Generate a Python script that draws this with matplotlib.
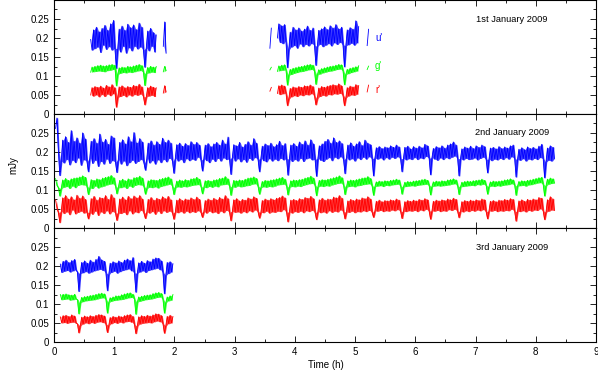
import numpy as np
import matplotlib
matplotlib.use('Agg')
import matplotlib.pyplot as plt
from matplotlib.ticker import MultipleLocator

plt.rcParams['font.family'] = ['Liberation Sans', 'DejaVu Sans']
plt.rcParams['path.simplify'] = False   # keep every zigzag of the noisy curves

# light curves in units of 0.001 mJy, sampled every dt hours
dt = 0.023675

# --- 1st January 2009 (5 chunks)
jan1_t0 = [0.609, 1.815, 3.585, 3.710, 5.200]
jan1_u = [
    [196, 168, 222, 172, 229, 176, 217, 162, 226, 181, 234, 170, 221, 177, 238, 168, 247, 173,
     120, 172, 224, 163, 232, 178, 221, 160, 237, 174, 228, 166, 235, 178, 223, 171, 240, 176, 229, 169,
     123, 174, 219, 166, 226, 178, 215, 163, 208],
    [178, 243, 160],
    [173, 226],
    [200, 238, 188, 233, 185, 236, 192,
     122, 170, 216, 176, 229, 180, 222, 173, 227, 184, 219, 177, 224, 183, 232, 179, 221, 185, 227, 181,
     128, 178, 221, 183, 225, 177, 230, 181, 223, 185, 233, 179, 227, 187, 236, 183, 225, 188, 229, 182,
     124, 180, 222, 182, 228, 186, 224, 181, 246, 187, 230],
    [180, 223],
]
jan1_g = [
    [110, 124, 111, 126, 112, 128, 113, 129, 112, 127, 111, 128, 114, 130, 115, 131, 117, 129,
     74, 104, 122, 107, 124, 109, 123, 108, 126, 110, 125, 109, 127, 111, 129, 113, 131, 114, 128, 110,
     75, 106, 123, 108, 126, 110, 124, 109, 125],
    [111, 126, 114],
    [116, 123],
    [112, 127, 114, 129, 115, 130, 116,
     76, 102, 118, 104, 121, 107, 123, 109, 125, 111, 126, 112, 128, 114, 130, 116, 131, 117, 129, 113,
     78, 103, 117, 105, 120, 108, 122, 110, 124, 112, 126, 113, 127, 115, 129, 117, 131, 118, 130, 114,
     77, 104, 118, 106, 121, 109, 123, 111, 125, 113, 127],
    [117, 126],
]
jan1_r = [
    [50, 70, 47, 73, 50, 71, 45, 74, 51, 69, 46, 76, 52, 72, 48, 78, 53, 70,
     18, 44, 72, 46, 75, 49, 70, 45, 73, 50, 71, 47, 76, 51, 74, 49, 79, 52, 72, 46,
     24, 45, 70, 47, 74, 49, 71, 46, 69],
    [55, 75, 58],
    [60, 70],
    [54, 75, 51, 77, 53, 74, 55,
     22, 40, 68, 45, 72, 48, 70, 46, 73, 50, 71, 48, 75, 51, 74, 50, 77, 53, 73, 48,
     24, 41, 69, 46, 73, 49, 71, 47, 74, 51, 76, 50, 78, 53, 76, 52, 80, 54, 75, 49,
     22, 43, 70, 47, 74, 50, 72, 49, 78, 52, 75],
    [58, 76],
]

# --- 2nd January 2009 (one long run)
jan2_t0 = [0.026]
jan2_u = [[
    262, 290, 200,
    138, 176, 232, 171, 241, 180, 226, 166, 257, 178, 229, 172, 238, 184, 224, 165, 251, 179, 235, 176,
    148, 184, 229, 170, 236, 178, 224, 162, 248, 175, 227, 168, 234, 181, 221, 170, 243, 177, 238, 174,
    146, 180, 226, 168, 233, 176, 222, 164, 241, 172, 228, 178, 252, 170, 225, 175, 236, 180, 227, 171,
    152, 183, 224, 171, 230, 177, 219, 168, 228, 179, 221, 172, 237, 180, 226, 174, 232, 183, 224, 176,
    144, 184, 220, 176, 224, 180, 216, 172, 223, 182, 218, 177, 228, 181, 221, 178, 226, 186, 219, 179,
    150, 182, 219, 177, 223, 172, 215, 181, 222, 175, 226, 183, 219, 176, 232, 184, 222, 180, 240, 182,
    141, 186, 220, 176, 217, 182, 226, 174, 214, 180, 221, 173, 228, 183, 219, 178, 236, 185, 224, 181,
    148, 183, 216, 177, 222, 174, 218, 182, 224, 176, 215, 181, 220, 177, 229, 183, 218, 179, 223, 183,
    139, 181, 219, 175, 223, 180, 216, 176, 227, 183, 221, 175, 230, 182, 219, 184, 233, 179, 222, 181,
    136, 183, 217, 178, 222, 175, 229, 181, 234, 185, 224, 177, 238, 186, 226, 182, 230, 187, 223, 180,
    143, 185, 219, 179, 225, 182, 216, 176, 222, 184, 228, 180, 218, 186, 232, 181, 224, 187, 220, 183,
    137, 184, 212, 181, 215, 184, 210, 179, 214, 185, 212, 181, 217, 186, 213, 183, 219, 187, 214, 182,
    148, 183, 213, 179, 216, 182, 209, 180, 215, 185, 211, 180, 216, 184, 212, 182, 221, 188, 217, 184,
    140, 185, 210, 181, 215, 178, 212, 184, 217, 180, 211, 185, 219, 182, 222, 186, 227, 189, 219, 183,
    137, 182, 209, 179, 214, 183, 211, 180, 216, 181, 210, 184, 217, 179, 213, 183, 219, 186, 215, 181,
    145, 181, 211, 177, 213, 181, 209, 179, 215, 183, 210, 180, 214, 185, 211, 181, 217, 187, 219, 183,
    134, 180, 208, 178, 212, 182, 207, 176, 214, 181, 210, 179, 213, 183, 209, 180, 216, 185, 221, 183,
    132, 174, 211, 178, 217, 176, 213, 182,
]]
jan2_g = [[
    130, 112, 106,
    84, 104, 127, 107, 131, 109, 126, 104, 130, 110, 132, 106, 133, 112, 135, 114, 138, 113, 134, 110,
    88, 105, 128, 104, 126, 110, 130, 105, 128, 108, 132, 110, 134, 113, 136, 115, 139, 116, 133, 111,
    90, 106, 126, 106, 129, 108, 125, 104, 130, 110, 128, 107, 133, 112, 134, 114, 137, 113, 132, 109,
    89, 104, 125, 107, 128, 106, 127, 108, 126, 105, 129, 109, 131, 111, 133, 113, 135, 115, 130, 110,
    88, 106, 124, 108, 127, 107, 125, 109, 128, 108, 126, 110, 130, 112, 131, 113, 134, 114, 129, 109,
    90, 107, 125, 106, 126, 109, 124, 107, 127, 110, 128, 108, 131, 113, 132, 114, 136, 115, 130, 111,
    86, 108, 126, 107, 125, 110, 127, 108, 126, 109, 129, 111, 132, 112, 133, 115, 135, 116, 131, 110,
    89, 106, 123, 108, 126, 107, 125, 109, 127, 108, 128, 110, 130, 113, 132, 114, 134, 115, 129, 111,
    87, 107, 125, 109, 127, 108, 126, 110, 128, 109, 129, 112, 132, 114, 134, 116, 137, 117, 132, 112,
    85, 108, 126, 110, 128, 109, 127, 111, 129, 110, 131, 113, 133, 115, 135, 117, 138, 118, 133, 113,
    88, 107, 125, 109, 127, 110, 126, 108, 128, 111, 130, 112, 132, 114, 133, 115, 136, 116, 131, 111,
    86, 109, 122, 110, 124, 111, 123, 109, 125, 112, 124, 111, 126, 113, 127, 114, 129, 115, 127, 111,
    89, 108, 121, 109, 123, 110, 122, 111, 124, 110, 125, 112, 126, 113, 128, 114, 129, 115, 126, 112,
    87, 109, 122, 110, 124, 111, 123, 110, 125, 111, 124, 112, 127, 113, 128, 115, 130, 116, 127, 111,
    88, 108, 121, 109, 123, 110, 124, 111, 123, 112, 125, 111, 126, 114, 127, 113, 129, 115, 126, 112,
    89, 109, 122, 110, 124, 109, 123, 111, 124, 110, 125, 112, 127, 113, 128, 114, 130, 116, 127, 113,
    86, 110, 123, 111, 125, 112, 124, 110, 126, 113, 127, 114, 129, 116, 131, 118, 133, 119, 134, 115,
    84, 111, 129, 115, 132, 117, 130, 118,
]]
jan2_r = [[
    74, 52, 40,
    14, 44, 80, 38, 86, 42, 77, 35, 83, 47, 75, 37, 87, 41, 79, 44, 85, 39, 76, 42,
    24, 40, 78, 36, 84, 44, 74, 33, 81, 42, 79, 38, 86, 45, 76, 37, 89, 43, 80, 40,
    20, 39, 77, 38, 82, 41, 75, 35, 84, 45, 78, 37, 85, 42, 80, 40, 86, 46, 77, 39,
    25, 42, 76, 39, 81, 43, 74, 36, 79, 44, 76, 38, 83, 45, 78, 41, 84, 44, 75, 40,
    23, 42, 74, 40, 78, 43, 73, 39, 77, 44, 75, 40, 80, 43, 76, 41, 82, 45, 76, 41,
    28, 43, 73, 39, 77, 44, 74, 40, 79, 42, 75, 38, 81, 44, 77, 40, 86, 46, 78, 42,
    19, 44, 75, 41, 78, 42, 72, 39, 76, 43, 74, 40, 80, 45, 77, 42, 83, 47, 79, 43,
    26, 41, 73, 40, 77, 44, 74, 39, 78, 42, 75, 41, 79, 44, 81, 43, 85, 48, 80, 42,
    16, 42, 74, 39, 76, 43, 73, 41, 78, 44, 76, 40, 81, 45, 79, 43, 84, 46, 78, 41,
    22, 43, 75, 40, 79, 42, 74, 39, 77, 45, 76, 41, 82, 44, 80, 42, 86, 47, 79, 43,
    24, 42, 72, 41, 76, 44, 73, 40, 77, 43, 75, 42, 80, 45, 78, 43, 83, 46, 77, 42,
    28, 45, 71, 44, 74, 46, 70, 43, 73, 45, 72, 44, 75, 47, 73, 45, 77, 48, 74, 44,
    25, 44, 70, 43, 73, 45, 71, 44, 74, 46, 72, 43, 76, 47, 74, 45, 78, 49, 75, 45,
    23, 45, 71, 44, 74, 46, 72, 43, 75, 45, 73, 44, 77, 48, 75, 46, 79, 49, 76, 44,
    27, 44, 70, 42, 73, 45, 71, 43, 74, 46, 72, 44, 75, 47, 73, 45, 77, 48, 75, 43,
    24, 45, 71, 44, 73, 46, 70, 43, 74, 45, 73, 44, 76, 46, 74, 45, 78, 49, 76, 44,
    18, 44, 72, 43, 75, 45, 71, 42, 76, 46, 74, 44, 77, 47, 75, 46, 81, 50, 79, 45,
    22, 42, 75, 44, 83, 47, 77, 46,
]]

# --- 3rd January 2009
jan3_t0 = [0.105]
jan3_u = [[
    205, 183, 213, 186, 216, 188, 210, 184, 215, 187, 218, 190, 184,
    133, 180, 210, 182, 214, 185, 208, 181, 216, 184, 211, 187, 218, 189, 226, 191, 217, 188, 213, 182,
    135, 178, 208, 183, 212, 186, 209, 181, 214, 185, 210, 188, 216, 190, 219, 192, 215, 187, 223, 182,
    131, 181, 209, 184, 213, 187, 208, 183, 215, 188, 212, 190, 219, 192, 222, 194, 221, 190, 214, 183,
    127, 176, 210, 180, 212, 184, 206,
]]
jan3_g = [[
    125, 111, 126, 112, 127, 113, 125, 110, 124, 111, 126, 113, 112,
    74, 103, 118, 106, 120, 108, 121, 109, 123, 110, 124, 111, 126, 113, 128, 115, 129, 116, 127, 112,
    76, 104, 117, 107, 119, 109, 122, 110, 122, 111, 125, 112, 127, 114, 129, 116, 130, 117, 126, 113,
    73, 105, 119, 107, 121, 109, 123, 111, 124, 112, 125, 113, 128, 115, 130, 117, 131, 118, 128, 112,
    76, 104, 119, 108, 122, 110, 125,
]]
jan3_r = [[
    66, 50, 70, 51, 71, 49, 68, 51, 72, 52, 69, 50, 48,
    24, 43, 66, 47, 69, 50, 67, 48, 70, 51, 68, 49, 71, 52, 73, 53, 72, 51, 69, 47,
    25, 44, 65, 48, 68, 51, 66, 49, 69, 52, 67, 50, 70, 53, 72, 54, 73, 52, 68, 46,
    22, 42, 67, 47, 70, 49, 68, 50, 71, 51, 69, 50, 72, 53, 75, 55, 74, 53, 70, 48,
    23, 43, 68, 48, 71, 50, 67,
]]

nights = [
    ('1st January 2009', jan1_t0, jan1_u, jan1_g, jan1_r),
    ('2nd January 2009', jan2_t0, jan2_u, jan2_g, jan2_r),
    ('3rd January 2009', jan3_t0, jan3_u, jan3_g, jan3_r),
]
band_colors = ['#0000ff', '#00ff00', '#ff0000']
band_names = ["u'", "g'", "r'"]
ytick_vals = [0, 0.05, 0.1, 0.15, 0.2, 0.25]
ytick_labels = ['0', '0.05', '0.1', '0.15', '0.2', '0.25']

W, H = 598, 381
fig = plt.figure(figsize=(W / 100, H / 100), dpi=100)

left = 54 / W
width = (596 - 54) / W
panel_h = 114 / H
bottoms = [(H - 114) / H, (H - 228) / H, (H - 342) / H]

axes = []
for k, (title, t0s, us, gs, rs) in enumerate(nights):
    ax = fig.add_axes([left, bottoms[k], width, panel_h])
    for band, col in zip([us, gs, rs], band_colors):
        for t0, vals in zip(t0s, band):
            t = t0 + dt * np.arange(len(vals))
            v = np.array(vals) / 1000.0
            # shade the range swept between neighbouring samples so the
            # noisy curve reads as a solid band, then draw the curve itself
            tm = (t[:-1] + t[1:]) / 2
            ax.fill_between(tm, np.minimum(v[:-1], v[1:]), np.maximum(v[:-1], v[1:]),
                            color=col, lw=0, alpha=0.75)
            ax.plot(t, v, color=col, lw=0.6, solid_joinstyle='bevel')
    ax.set_xlim(0, 9)
    ax.set_ylim(0, 0.3)
    ax.set_yticks(ytick_vals)
    ax.set_yticklabels(ytick_labels)
    ax.xaxis.set_major_locator(MultipleLocator(1))
    ax.xaxis.set_minor_locator(MultipleLocator(0.5))
    ax.yaxis.set_minor_locator(MultipleLocator(0.025))
    ax.tick_params(which='both', direction='in', top=True, right=True,
                   labelsize=7, width=0.6, colors='black')
    ax.tick_params(which='major', length=4)
    ax.tick_params(which='minor', length=2.5)
    for s in ax.spines.values():
        s.set_linewidth(0.8)
    if k < 2:
        ax.set_xticklabels([])
    ax.text(7.6, 0.25, title, ha='center', va='center', fontsize=6.7)
    axes.append(ax)

# band labels on the first panel
label_y = [0.2, 0.126, 0.063]
for name, col, y in zip(band_names, band_colors, label_y):
    axes[0].text(5.33, y, name, color=col, fontsize=7, ha='left', va='center')

fig.text(13 / W, 1 - 165 / H, 'mJy', rotation=90, ha='center', va='center', fontsize=7)
fig.text(326 / W, 1 - 365 / H, 'Time (h)', ha='center', va='center', fontsize=7)

fig.savefig('out.png', dpi=100)
